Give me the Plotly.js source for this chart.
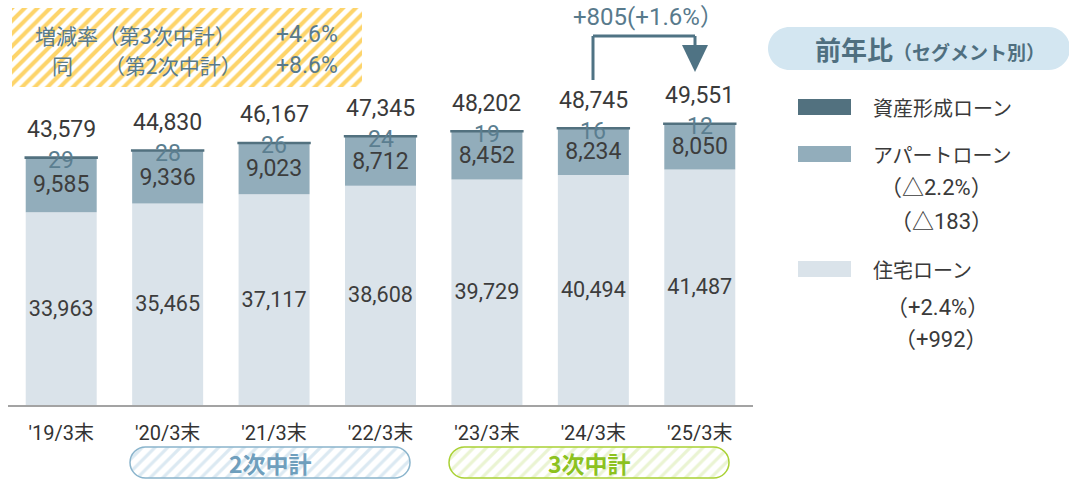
<!DOCTYPE html>
<html>
<head>
<meta charset="utf-8">
<script src="https://cdn.plot.ly/plotly-3.0.1.min.js"></script>
<style>
  html, body { margin: 0; padding: 0; background: #fff; }
  #chart { width: 1069px; height: 479px; }
</style>
</head>
<body>
<div id="chart"></div>
<script>
// loan balance by segment (億円)
const categories = ["'19/3末", "'20/3末", "'21/3末", "'22/3末", "'23/3末", "'24/3末", "'25/3末"];
const housingLoan = [33963, 35465, 37117, 38608, 39729, 40494, 41487];
const apartmentLoan = [9585, 9336, 9023, 8712, 8452, 8234, 8050];
const assetLoan = [29, 28, 26, 24, 19, 16, 12];
const totals = [43579, 44830, 46167, 47345, 48202, 48745, 49551];

const legendNames = ['資産形成ローン', 'アパートローン', '住宅ローン'];
const apartmentChange = ['（△2.2%）', '（△183）'];
const housingChange = ['（+2.4%）', '（+992）'];
const growthRows = [['増減率（第3次中計）', '+4.6%'], ['同', '（第2次中計）', '+8.6%']];
const yoyText = '+805(+1.6%）';

const W = 1069, H = 479;
const px = x => x / W;
const py = y => 1 - y / H;
const P = (x, y) => `${px(x)},${py(y)}`;

const NUM_FONT = 'Roboto, "Noto Sans CJK JP", sans-serif';
const JP_FONT = '"Noto Sans CJK JP", Roboto, sans-serif';

const COL_ASSET = '#52717f';
const COL_APT = '#92adbb';
const COL_HOUSE = '#dae3ea';
const COL_LABEL = '#5b7e90';
const COL_NOTE = '#587a8c';

// rounded pill outline in paper coords from pixel box
function pillPath(x0, y0, x1, y1) {
    const r = (y1 - y0) / 2, k = 0.5523 * r;
    return `M${P(x0 + r, y0)} L${P(x1 - r, y0)} ` +
        `C${P(x1 - r + k, y0)} ${P(x1, y0 + r - k)} ${P(x1, y0 + r)} ` +
        `C${P(x1, y0 + r + k)} ${P(x1 - r + k, y1)} ${P(x1 - r, y1)} ` +
        `L${P(x0 + r, y1)} ` +
        `C${P(x0 + r - k, y1)} ${P(x0, y0 + r + k)} ${P(x0, y0 + r)} ` +
        `C${P(x0, y0 + r - k)} ${P(x0 + r - k, y0)} ${P(x0 + r, y0)} Z`;
}

const stackTop = housingLoan.map((v, i) => v + apartmentLoan[i] + assetLoan[i]);

// --- main stacked bars ---
const traces = [
    {
        type: 'bar', x: categories, y: housingLoan, name: legendNames[2],
        marker: { color: COL_HOUSE },
        texttemplate: '%{y:,}', textposition: 'inside', insidetextanchor: 'middle', textangle: 0,
        textfont: { family: NUM_FONT, size: 23, color: '#3d3d3d' },
        hoverinfo: 'skip', showlegend: false
    },
    {
        type: 'bar', x: categories, y: apartmentLoan, name: legendNames[1],
        marker: { color: COL_APT },
        texttemplate: '%{y:,}', textposition: 'inside', insidetextanchor: 'middle', textangle: 0,
        textfont: { family: NUM_FONT, size: 23, color: '#3d3d3d' },
        hoverinfo: 'skip', showlegend: false
    },
    {
        type: 'bar', x: categories, y: assetLoan, name: legendNames[0],
        marker: { color: COL_ASSET, line: { color: COL_ASSET, width: 2.4 } },
        textposition: 'none', hoverinfo: 'skip', showlegend: false
    }
];

// --- striped backgrounds (pattern bars on hidden helper axes) ---
function stripeBox(xa, ya, fg) {
    return {
        type: 'bar', x: [0.5], y: [1], width: [1], xaxis: xa, yaxis: ya,
        marker: { color: '#ffffff', pattern: { shape: '/', fgcolor: fg, bgcolor: '#ffffff', size: 9, solidity: 0.45 } },
        hoverinfo: 'skip', showlegend: false
    };
}
function stripePill(xa, ya, fg) {
    return [-1, 1].map(v => ({
        type: 'bar', orientation: 'h', x: [v], y: [0], width: [1], xaxis: xa, yaxis: ya,
        marker: { color: '#ffffff', cornerradius: '50%', line: { width: 0 },
            pattern: { shape: '/', fgcolor: fg, bgcolor: '#ffffff', size: 9, solidity: 0.35 } },
        hoverinfo: 'skip', showlegend: false
    }));
}
traces.push(stripeBox('x2', 'y2', '#fdd46a'));
traces.push(...stripePill('x3', 'y3', '#dbe9f2'));
traces.push(...stripePill('x4', 'y4', '#eaf4d2'));

const hiddenAxis = (domain, range, anchor) => ({
    domain: domain, range: range, anchor: anchor, visible: false, fixedrange: true
});

// --- annotations ---
const annotations = [];
categories.forEach((c, i) => {
    annotations.push({
        x: c, y: stackTop[i], xref: 'x', yref: 'y', text: totals[i].toLocaleString('en-US'),
        showarrow: false, yanchor: 'middle', yshift: 28,
        font: { family: NUM_FONT, size: 23, color: '#3a3a3a' }
    });
    annotations.push({
        x: c, y: stackTop[i], xref: 'x', yref: 'y', text: String(assetLoan[i]),
        showarrow: false, yanchor: 'middle', yshift: -3, borderpad: 0,
        font: { family: NUM_FONT, size: 23, color: COL_LABEL }
    });
});

const paperText = (x, y, text, size, color, xanchor, family) => ({
    xref: 'paper', yref: 'paper', x: px(x), y: py(y), text: text, showarrow: false,
    xanchor: xanchor || 'center', yanchor: 'middle',
    font: { family: family || JP_FONT, size: size, color: color }
});

// growth box
annotations.push(paperText(33, 35, growthRows[0][0], 21, COL_NOTE, 'left'));
annotations.push(paperText(340, 35, growthRows[0][1], 23, COL_NOTE, 'right', NUM_FONT));
annotations.push(paperText(62, 65, growthRows[1][0], 21, COL_NOTE, 'center'));
annotations.push(paperText(244, 65, growthRows[1][1], 21, COL_NOTE, 'right'));
annotations.push(paperText(340, 65, growthRows[1][2], 23, COL_NOTE, 'right', NUM_FONT));

// yoy arrow text
annotations.push(paperText(648, 17, yoyText, 24, COL_NOTE, 'center', NUM_FONT));

// legend title
annotations.push(paperText(930, 49,
    '<b>前年比</b><span style="font-size:19px"><b>（セグメント別）</b></span>', 26, '#4f6f80', 'center'));

// legend entries
annotations.push(paperText(871, 107, legendNames[0], 20, '#3a3a3a', 'left'));
annotations.push(paperText(871, 154, legendNames[1], 20, '#3a3a3a', 'left'));
annotations.push(paperText(936, 187, apartmentChange[0], 22, '#3a3a3a', 'center', NUM_FONT));
annotations.push(paperText(941, 221, apartmentChange[1], 22, '#3a3a3a', 'center', NUM_FONT));
annotations.push(paperText(871, 269, legendNames[2], 20, '#3a3a3a', 'left'));
annotations.push(paperText(937, 307, housingChange[0], 22, '#3a3a3a', 'center', NUM_FONT));
annotations.push(paperText(941, 339, housingChange[1], 22, '#3a3a3a', 'center', NUM_FONT));

// plan pills
annotations.push(paperText(270, 463, '<b>2次中計</b>', 23, '#6f9fbd', 'center'));
annotations.push(paperText(589, 463, '<b>3次中計</b>', 23, '#8cc21f', 'center'));

// --- shapes ---
const swatch = (y0, y1, color) => ({
    type: 'rect', xref: 'paper', yref: 'paper', x0: px(798), x1: px(851), y0: py(y1), y1: py(y0),
    fillcolor: color, line: { width: 0 }
});
const seg = (x0, y0, x1, y1) => ({
    type: 'line', xref: 'paper', yref: 'paper', x0: px(x0), y0: py(y0), x1: px(x1), y1: py(y1),
    line: { color: '#4f7384', width: 3 }
});
const shapes = [
    { type: 'path', xref: 'paper', yref: 'paper', path: pillPath(768, 27, 1070, 70),
      fillcolor: '#d3e6f1', line: { width: 0 }, layer: 'below' },
    swatch(99, 115, COL_ASSET),
    swatch(146, 162, COL_APT),
    swatch(261, 277, COL_HOUSE),
    seg(593, 80, 593, 36),
    seg(593, 36, 695, 36),
    seg(695, 36, 695, 46),
    { type: 'path', xref: 'paper', yref: 'paper',
      path: `M${P(682, 45)} L${P(708, 45)} L${P(695, 72)} Z`,
      fillcolor: '#4f7384', line: { width: 0 } },
    { type: 'path', xref: 'paper', yref: 'paper', path: pillPath(130, 447, 410, 478),
      line: { color: '#8ab4cc', width: 1.5 } },
    { type: 'path', xref: 'paper', yref: 'paper', path: pillPath(449, 447, 729, 478),
      line: { color: '#a9d134', width: 1.5 } }
];

const layout = {
    width: W, height: H,
    margin: { l: 0, r: 0, t: 0, b: 0 },
    paper_bgcolor: '#ffffff', plot_bgcolor: 'rgba(0,0,0,0)',
    barmode: 'relative', bargap: 0.333,
    showlegend: false, hovermode: false,
    xaxis: {
        type: 'category', domain: [px(8), px(753)], anchor: 'y',
        showline: true, linecolor: '#a3a3a3', linewidth: 2,
        ticks: '', showgrid: false, zeroline: false, automargin: false,
        ticklabelstandoff: 9,
        tickfont: { family: NUM_FONT, size: 20, color: '#333333' }
    },
    yaxis: {
        domain: [py(405), py(87)], range: [0, 56000], anchor: 'x',
        visible: false, showgrid: false, zeroline: false
    },
    xaxis2: hiddenAxis([px(12), px(362)], [0, 1], 'y2'),
    yaxis2: hiddenAxis([py(87), py(8)], [0, 1], 'x2'),
    xaxis3: hiddenAxis([px(130), px(410)], [-1, 1], 'y3'),
    yaxis3: hiddenAxis([py(478), py(447)], [-0.5, 0.5], 'x3'),
    xaxis4: hiddenAxis([px(449), px(729)], [-1, 1], 'y4'),
    yaxis4: hiddenAxis([py(478), py(447)], [-0.5, 0.5], 'x4'),
    uniformtext: { mode: 'show', minsize: 23 },
    annotations: annotations,
    shapes: shapes
};

Plotly.newPlot('chart', traces, layout, { displayModeBar: false, staticPlot: true });
</script>
</body>
</html>
